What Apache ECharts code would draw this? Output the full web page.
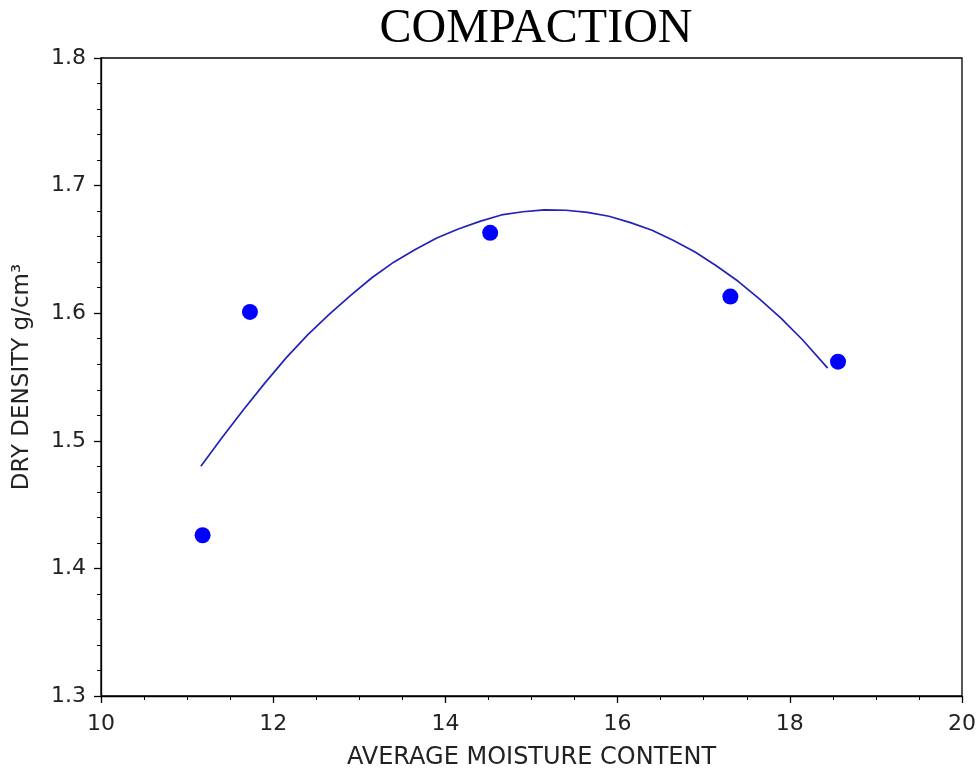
<!DOCTYPE html>
<html><head><meta charset="utf-8">
<script src="https://cdn.jsdelivr.net/npm/echarts@6/dist/echarts.min.js"></script>
<style>html,body{margin:0;padding:0;background:#fff}#c{width:980px;height:771px}</style>
</head><body><div id="c"></div>
<script>
const titleText = 'COMPACTION';
const xName = 'AVERAGE MOISTURE CONTENT';
const yName = 'DRY DENSITY g/cm³';
const moisture = [11.18, 11.73, 14.52, 17.31, 18.56];
const density = [1.426, 1.601, 1.663, 1.613, 1.562];
const fitX = [11.16, 11.4, 11.65, 11.9, 12.15, 12.4, 12.65, 12.9, 13.15, 13.4, 13.65, 13.9, 14.15, 14.4, 14.65,
  14.9, 15.15, 15.4, 15.65, 15.9, 16.15, 16.4, 16.65, 16.9, 17.15, 17.4, 17.65, 17.9, 18.15, 18.44];
const fitY = [1.480, 1.502, 1.524, 1.545, 1.565, 1.583, 1.599, 1.614, 1.628, 1.640, 1.650, 1.659, 1.666, 1.672, 1.677,
  1.6795, 1.681, 1.6807, 1.679, 1.676, 1.671, 1.665, 1.657, 1.648, 1.637, 1.625, 1.611, 1.596, 1.579, 1.557];

const chart = echarts.init(document.getElementById('c'), null, {renderer: 'canvas'});
const axisFont = 'DejaVu Sans';
chart.setOption({
  animation: false,
  title: {text: titleText, left: 531, textAlign: 'center', top: 0,
    textStyle: {fontFamily: 'Liberation Serif', fontSize: 48, fontWeight: 'normal', color: '#000'}},
  grid: {left: 101, right: 18, top: 58, bottom: 75, show: true, borderColor: '#000', borderWidth: 1.3,
    backgroundColor: '#fff', containLabel: false, outerBoundsMode: 'none'},
  xAxis: {type: 'value', min: 10, max: 20, interval: 2,
    name: xName, nameLocation: 'middle', nameGap: 50,
    nameTextStyle: {fontFamily: axisFont, fontSize: 24, color: '#222'},
    axisLine: {show: true, lineStyle: {color: '#000', width: 1.3}},
    axisTick: {show: true, inside: false, length: 7, lineStyle: {color: '#000', width: 1.3}},
    minorTick: {show: true, splitNumber: 4, length: 4, lineStyle: {color: '#000', width: 1}},
    axisLabel: {fontFamily: axisFont, fontSize: 22, color: '#222', margin: 17},
    splitLine: {show: false}},
  yAxis: {type: 'value', min: 1.3, max: 1.8, interval: 0.1,
    name: yName, nameLocation: 'middle', nameGap: 67, nameRotate: 90,
    nameTextStyle: {fontFamily: axisFont, fontSize: 23, color: '#222'},
    axisLine: {show: true, lineStyle: {color: '#000', width: 1.3}},
    axisTick: {show: true, inside: false, length: 7, lineStyle: {color: '#000', width: 1.3}},
    minorTick: {show: true, splitNumber: 5, length: 4, lineStyle: {color: '#000', width: 1}},
    axisLabel: {fontFamily: axisFont, fontSize: 22, color: '#222', margin: 15,
      formatter: v => v.toFixed(1)},
    splitLine: {show: false}},
  series: [
    {type: 'line', data: fitX.map((x, i) => [x, fitY[i]]), smooth: false, showSymbol: false,
      lineStyle: {color: '#2222bb', width: 1.7}, z: 2},
    {type: 'scatter', data: moisture.map((x, i) => [x, density[i]]), symbolSize: 16,
      itemStyle: {color: '#0000ff', opacity: 1}, z: 3}
  ]
});
</script></body></html>
